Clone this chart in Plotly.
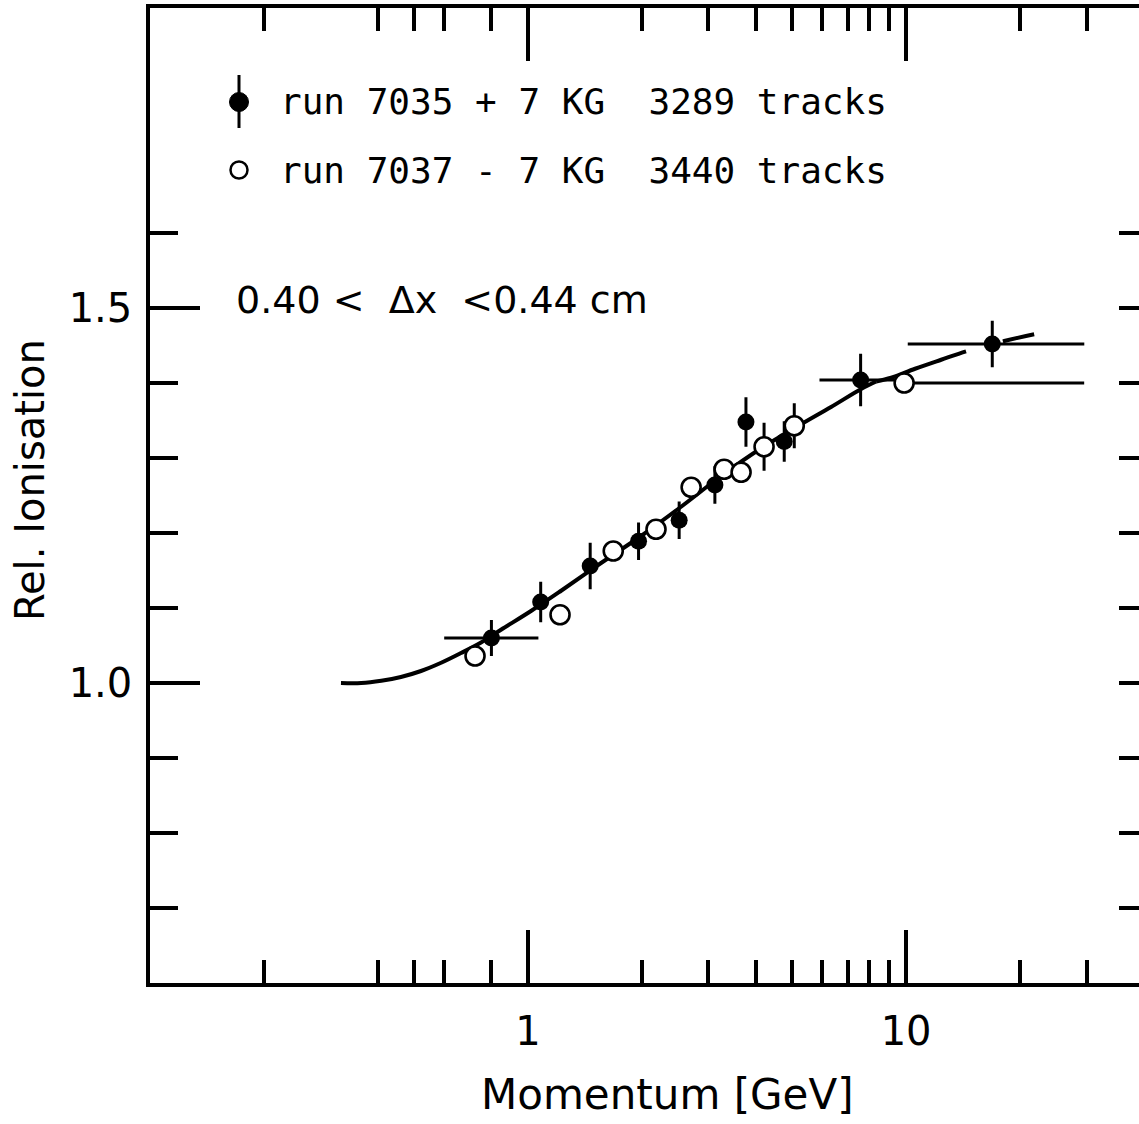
import plotly.graph_objects as go

# ---------------- data ----------------
# run 7035 (+7 KG), filled circles
p_run7035 = [0.80, 1.08, 1.46, 1.96, 2.51, 3.12, 3.77, 4.76, 7.58, 16.9]
r_run7035 = [1.060, 1.108, 1.156, 1.189, 1.217, 1.264, 1.348, 1.322, 1.404, 1.452]
err_r_run7035 = [0.024, 0.027, 0.031, 0.025, 0.025, 0.025, 0.033, 0.027, 0.035, 0.031]
err_p_plus_run7035 = [0.265, 0, 0, 0, 0, 0, 0, 0, 2.2, 12.7]
err_p_minus_run7035 = [0.20, 0, 0, 0, 0, 0, 0, 0, 1.68, 6.8]

# run 7037 (-7 KG), open circles
p_run7037 = [0.724, 1.215, 1.68, 2.18, 2.70, 3.30, 3.66, 4.21, 5.06, 9.88]
r_run7037 = [1.036, 1.091, 1.176, 1.205, 1.261, 1.285, 1.281, 1.315, 1.343, 1.400]
err_r_run7037 = [0, 0, 0, 0, 0, 0, 0, 0.032, 0.030, 0]
err_p_plus_run7037 = [0, 0, 0, 0, 0, 0, 0, 0, 0, 19.7]
err_p_minus_run7037 = [0, 0, 0, 0, 0, 0, 0, 0, 0, 0]

# expected curve (solid part, then dashed extrapolation)
curve_p_solid = [0.320, 0.362, 0.409, 0.461, 0.521, 0.589, 0.665, 0.751, 0.848, 1.018,
                 1.223, 1.560, 1.990, 2.540, 3.241, 4.135, 5.276, 6.331, 7.603, 8.33]
curve_r_solid = [1.000, 1.000, 1.003, 1.008, 1.016, 1.027, 1.040, 1.054, 1.071, 1.096,
                 1.123, 1.160, 1.196, 1.235, 1.276, 1.313, 1.345, 1.368, 1.392, 1.402]
curve_p_dash = [8.33, 9.13, 10.56, 12.38, 14.58, 18.17, 21.81]
curve_r_dash = [1.402, 1.407, 1.419, 1.431, 1.443, 1.456, 1.465]

# axis ticks
x_major_ticks = [1, 10]
x_major_labels = ["1", "10"]
x_minor_ticks = [0.2, 0.4, 0.5, 0.6, 0.8, 2, 3, 4, 5, 6, 7, 8, 9, 20, 30]
y_major_ticks = [1.0, 1.5]
y_major_labels = ["1.0", "1.5"]
y_minor_ticks = [0.7, 0.8, 0.9, 1.1, 1.2, 1.3, 1.4, 1.6]

legend_row1 = "run 7035 + 7 KG  3289 tracks"
legend_row2 = "run 7037 - 7 KG  3440 tracks"
cut_text = "0.40 <  \u0394x  <0.44 cm"

# ---------------- figure ----------------
W, H = 1139, 1124
ML, MR, MT, MB = 150, 0, 8, 141
PW, PH = W - ML - MR, H - MT - MB


def px_x(px):
    return (px - ML) / PW


def px_y(py):
    return (H - MB - py) / PH


fig = go.Figure()

fig.add_trace(go.Scatter(x=curve_p_solid, y=curve_r_solid, mode="lines",
                         line=dict(color="black", width=4, shape="spline"),
                         showlegend=False, hoverinfo="skip"))
fig.add_trace(go.Scatter(x=curve_p_dash, y=curve_r_dash, mode="lines",
                         line=dict(color="black", width=4, shape="spline", dash="95px,38px"),
                         showlegend=False, hoverinfo="skip"))

fig.add_trace(go.Scatter(
    x=p_run7035, y=r_run7035, mode="markers",
    marker=dict(symbol="circle", size=17, color="black"),
    error_y=dict(type="data", array=err_r_run7035, color="black", thickness=3, width=0),
    error_x=dict(type="data", symmetric=False, array=err_p_plus_run7035,
                 arrayminus=err_p_minus_run7035, color="black", thickness=3, width=0),
    name="run 7035", showlegend=False))

fig.add_trace(go.Scatter(
    x=p_run7037, y=r_run7037, mode="markers",
    marker=dict(symbol="circle", size=19, color="white", line=dict(color="black", width=2.6)),
    error_y=dict(type="data", array=err_r_run7037, color="black", thickness=3, width=0),
    error_x=dict(type="data", symmetric=False, array=err_p_plus_run7037,
                 arrayminus=err_p_minus_run7037, color="black", thickness=3, width=0),
    name="run 7037", showlegend=False))

# dummy trace so the overlaying (top / right) axes are drawn
fig.add_trace(go.Scatter(x=[1], y=[1], xaxis="x2", yaxis="y2", mode="markers",
                         marker=dict(opacity=0), showlegend=False, hoverinfo="skip"))

tickfont = dict(family="DejaVu Sans", size=40, color="black")
xrange = [-1, 1.616]
yrange = [0.6, 1.9]

common_x = dict(type="log", range=xrange, showgrid=False, zeroline=False,
                showline=True, linewidth=3.5, linecolor="black",
                ticks="inside", tickmode="array", tickvals=x_major_ticks,
                ticklen=53, tickwidth=3.5, tickcolor="black",
                minor=dict(ticks="inside", tickmode="array", tickvals=x_minor_ticks,
                           ticklen=23, tickwidth=3.5, tickcolor="black", showgrid=False))

fig.update_layout(
    width=W, height=H,
    margin=dict(l=ML, r=MR, t=MT, b=MB, autoexpand=False),
    paper_bgcolor="white", plot_bgcolor="white",
    xaxis=dict(**common_x, ticktext=x_major_labels, tickfont=tickfont,
               ticklabelstandoff=10, anchor="y", side="bottom"),
    xaxis2=dict(**common_x, overlaying="x", side="top", anchor="y",
                showticklabels=False),
    yaxis=dict(range=yrange, showgrid=False, zeroline=False,
               showline=True, linewidth=3.5, linecolor="black",
               ticks="inside", tickmode="array", tickvals=y_major_ticks,
               ticktext=y_major_labels, ticklen=50, tickwidth=3.5, tickcolor="black",
               tickfont=tickfont, ticklabelstandoff=6,
               minor=dict(ticks="inside", tickmode="array", tickvals=y_minor_ticks,
                          ticklen=28, tickwidth=3.5, tickcolor="black", showgrid=False)),
    yaxis2=dict(range=yrange, overlaying="y", side="right", anchor="x",
                showgrid=False, zeroline=False, showline=False,
                ticks="inside", tickmode="array", tickvals=y_major_ticks + y_minor_ticks,
                ticklen=20, tickwidth=3.5, tickcolor="black", showticklabels=False),
    showlegend=False,
)

# legend symbols
fig.add_shape(type="line", xref="paper", yref="paper",
              x0=px_x(239), x1=px_x(239), y0=px_y(75), y1=px_y(128),
              line=dict(color="black", width=3))
fig.add_shape(type="circle", xref="paper", yref="paper",
              xsizemode="pixel", ysizemode="pixel",
              xanchor=px_x(239), yanchor=px_y(102),
              x0=-9.5, x1=9.5, y0=-9.5, y1=9.5,
              fillcolor="black", line=dict(color="black", width=1))
fig.add_shape(type="circle", xref="paper", yref="paper",
              xsizemode="pixel", ysizemode="pixel",
              xanchor=px_x(239), yanchor=px_y(170),
              x0=-8.5, x1=8.5, y0=-8.5, y1=8.5,
              fillcolor="white", line=dict(color="black", width=2.5))

legend_font = dict(family="DejaVu Sans Mono", size=36, color="black")
fig.add_annotation(x=px_x(278), y=px_y(102), xref="paper", yref="paper",
                   text=legend_row1, showarrow=False, xanchor="left", yanchor="middle",
                   font=legend_font)
fig.add_annotation(x=px_x(278), y=px_y(170), xref="paper", yref="paper",
                   text=legend_row2, showarrow=False, xanchor="left", yanchor="middle",
                   font=legend_font)

fig.add_annotation(x=px_x(234), y=px_y(300), xref="paper", yref="paper",
                   text=cut_text, showarrow=False, xanchor="left", yanchor="middle",
                   font=dict(family="DejaVu Sans", size=38, color="black"))

# axis titles
fig.add_annotation(x=px_x(667), y=px_y(1094), xref="paper", yref="paper",
                   text="Momentum [GeV]", showarrow=False, xanchor="center", yanchor="middle",
                   font=dict(family="DejaVu Sans", size=42, color="black"))
fig.add_annotation(x=px_x(30), y=px_y(480), xref="paper", yref="paper",
                   text="Rel. Ionisation", showarrow=False, xanchor="center", yanchor="middle",
                   textangle=-90,
                   font=dict(family="DejaVu Sans", size=40, color="black"))

fig.write_html("out.html",
               config={"displayModeBar": False},
               post_script="document.body.style.margin='0';document.body.style.overflow='hidden';")
